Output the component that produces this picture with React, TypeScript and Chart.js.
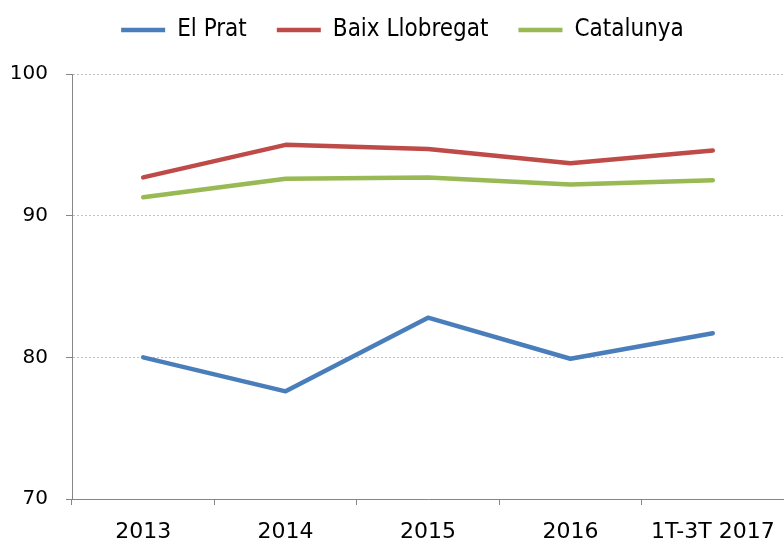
import React, { useEffect, useRef } from "react";
import { Chart, registerables } from "chart.js";

Chart.register(...registerables);

const categories = ["2013", "2014", "2015", "2016", "1T-3T 2017"];
const elPrat = [80.0, 77.6, 82.8, 79.9, 81.7];
const baixLlobregat = [92.7, 95.0, 94.7, 93.7, 94.6];
const catalunya = [91.3, 92.6, 92.7, 92.2, 92.5];
const yTicks = [70, 80, 90, 100];

const AXIS_FONT = "'DejaVu Sans', Verdana, sans-serif";
const LEGEND_FONT = "'DejaVu Sans Condensed', 'DejaVu Sans', sans-serif";

export default function App() {
  const ref = useRef<HTMLCanvasElement | null>(null);
  useEffect(() => {
    if (!ref.current) return;
    const mk = (label: string, data: number[], color: string) => ({
      label,
      data,
      borderColor: color,
      backgroundColor: color,
      borderWidth: 4.5,
      borderCapStyle: "round" as const,
      borderJoinStyle: "round" as const,
      pointRadius: 0,
      pointHoverRadius: 0,
      tension: 0,
      fill: false,
    });
    const chart = new Chart(ref.current, {
      type: "line",
      data: {
        labels: categories,
        datasets: [
          mk("El Prat", elPrat, "#4A7EBB"),
          mk("Baix Llobregat", baixLlobregat, "#BE4B48"),
          mk("Catalunya", catalunya, "#98B954"),
        ],
      },
      options: {
        responsive: false,
        animation: false,
        layout: { padding: { top: -12, left: 0, right: -5, bottom: 0 } },
        plugins: {
          legend: {
            position: "top",
            labels: {
              usePointStyle: true,
              pointStyle: "line",
              pointStyleWidth: 44,
              padding: 30,
              color: "#000",
              font: { family: LEGEND_FONT, size: 24 },
            },
          },
          tooltip: { enabled: false },
        },
        scales: {
          x: {
            type: "category",
            offset: true,
            grid: {
              offset: true,
              drawOnChartArea: false,
              drawTicks: true,
              tickLength: 6,
              color: "#868686",
            },
            border: { color: "#868686", width: 1 },
            ticks: {
              color: "#000",
              font: { family: AXIS_FONT, size: 22 },
              padding: 14,
              maxRotation: 0,
              autoSkip: false,
            },
            afterFit: (s: any) => {
              s.height = 40;
              s.paddingLeft = 0;
              s.paddingRight = 0;
            },
          },
          y: {
            min: 70,
            max: 100,
            afterBuildTicks: (s: any) => {
              s.ticks = yTicks.map((v) => ({ value: v }));
            },
            grid: {
              color: "#BFBFBF",
              tickLength: 6,
              tickColor: "#868686",
              drawTicks: true,
            },
            border: { color: "#868686", width: 1, dash: [2, 2] },
            ticks: {
              color: "#000",
              font: { family: AXIS_FONT, size: 20 },
              padding: 18,
            },
            afterFit: (s: any) => {
              s.width = 72;
            },
          },
        },
      },
      plugins: [
        {
          id: "legendSpace",
          beforeInit(c: any) {
            const lg = c.legend;
            if (lg && !lg.__patched) {
              const orig = lg.fit.bind(lg);
              lg.fit = function () {
                orig();
                this.height = 86;
              };
              lg.__patched = true;
            }
          },
          afterLayout(c: any) {
            const lg = c.legend;
            if (lg) {
              lg.left += 8;
              lg.right += 8;
            }
          },
        },
      ],
    });
    return () => chart.destroy();
  }, []);
  return (
    <div style={{ position: "absolute", left: 0, top: 0, width: 784, height: 539, overflow: "hidden" }}>
      <canvas ref={ref} width={784} height={539} style={{ display: "block" }} />
    </div>
  );
}
